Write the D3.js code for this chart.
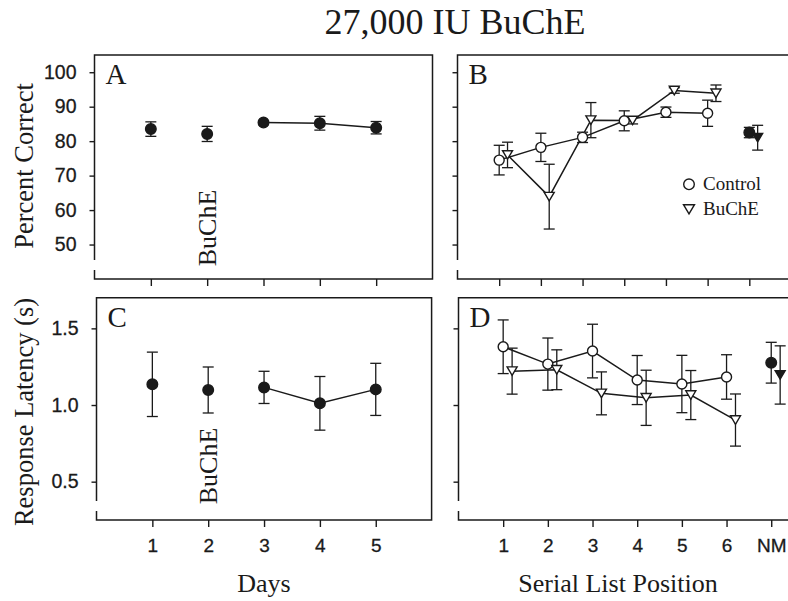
<!DOCTYPE html>
<html>
<head>
<meta charset="utf-8">
<script src="https://cdn.jsdelivr.net/npm/d3@7"></script>
<style>
  body { margin: 0; background: #fff; }
  svg { display: block; }
</style>
</head>
<body>
<script>
// ---------------- data ----------------
const days = [1, 2, 3, 4, 5];
const dayLabels = ["1", "2", "3", "4", "5"];
const pctDays = [83.5, 82.1, 85.4, 85.2, 83.9];
const pctDaysErr = [2.1, 2.2, 0.6, 2.0, 1.8];
const latDays = [1.135, 1.098, 1.115, 1.011, 1.102];
const latDaysErr = [0.21, 0.15, 0.105, 0.175, 0.17];

const positions = [1, 2, 3, 4, 5, 6, 7];
const positionLabels = ["1", "2", "3", "4", "5", "6", "NM"];
const pctControl = [74.5, 78.2, 81.1, 85.9, 88.4, 88.1, 82.5];
const pctControlErr = [4.3, 4.1, 1.5, 2.9, 1.5, 3.8, 1.5];
const pctBuChE = [76.0, 63.9, 86.1, 86.0, 94.7, 93.9, 81.0];
const pctBuChEErr = [3.7, 9.4, 5.1, 1.0, 0.8, 2.4, 3.6];
const latControl = [1.38, 1.267, 1.352, 1.163, 1.137, 1.183, 1.276];
const latControlErr = [0.175, 0.17, 0.175, 0.16, 0.187, 0.145, 0.133];
const latBuChE = [1.221, 1.23, 1.076, 1.047, 1.065, 0.902, 1.196];
const latBuChEErr = [0.15, 0.13, 0.14, 0.18, 0.16, 0.17, 0.19];

const pctTicks = [50, 60, 70, 80, 90, 100];
const latTicks = [0.5, 1.0, 1.5];

const title = "27,000 IU BuChE";
const seriesNames = ["Control", "BuChE"];

// ---------------- setup ----------------
const W = 788, H = 601;
const serif = "'Liberation Serif', 'Times New Roman', serif";
const sans = "'Liberation Sans', Arial, sans-serif";
const ink = "#1a1a1a";

const svg = d3.select("body").append("svg")
  .attr("width", W).attr("height", H)
  .style("background", "#fff");

svg.append("text")
  .attr("x", 455).attr("y", 34)
  .attr("text-anchor", "middle")
  .style("font-family", serif).style("font-size", "36px").style("fill", ink)
  .text(title);

const panels = {
  A: { x: d3.scaleLinear([0, 6], [94.5, 432.5]), y: d3.scaleLinear([40, 105], [279, 55]), right: true },
  B: { x: d3.scaleLinear([0, 8], [457.5, 791]), y: d3.scaleLinear([40, 105], [279, 55]), right: false },
  C: { x: d3.scaleLinear([0, 6], [96.5, 431.6]), y: d3.scaleLinear([0.25, 1.7], [520, 297.7]), right: true },
  D: { x: d3.scaleLinear([0, 8], [458.5, 815.9]), y: d3.scaleLinear([0.25, 1.7], [520, 297.7]), right: false }
};

function frame(p, name, yTicks, yFmt, showYLabels, xTicks, xFmt) {
  const g = svg.append("g");
  const [x0, x1] = p.x.range();
  const [yb, yt] = p.y.range();
  // y axis ticks (outside, left)
  const ya = d3.axisLeft(p.y).tickValues(yTicks).tickSize(5).tickPadding(13)
    .tickFormat(showYLabels ? yFmt : () => "");
  const yg = g.append("g").attr("transform", `translate(${x0},0)`).call(ya);
  yg.select(".domain").remove();
  yg.selectAll("line").attr("stroke", ink).attr("stroke-width", 1.4);
  yg.selectAll("text").style("font-family", sans).style("font-size", "19.5px")
    .style("fill", ink).style("stroke", ink).style("stroke-width", 0.3);
  // x axis ticks (outside, bottom)
  const xa = d3.axisBottom(p.x).tickValues(xTicks).tickSize(7).tickPadding(12).tickFormat(xFmt);
  const xg = g.append("g").attr("transform", `translate(0,${yb})`).call(xa);
  xg.select(".domain").remove();
  xg.selectAll("line").attr("stroke", ink).attr("stroke-width", 1.4);
  xg.selectAll("text").style("font-family", sans).style("font-size", "19px")
    .style("fill", ink).style("stroke", ink).style("stroke-width", 0.3);
  // frame with broken left spine
  const path = d3.path();
  path.moveTo(x0, yb - 19); path.lineTo(x0, yt); path.lineTo(x1, yt);
  if (p.right) path.lineTo(x1, yb); else path.moveTo(x1, yb);
  path.lineTo(x0, yb); path.lineTo(x0, yb - 9);
  g.append("path").attr("d", path.toString()).attr("fill", "none")
    .attr("stroke", ink).attr("stroke-width", 1.5);
  // panel letter
  g.append("text").attr("x", x0 + 11).attr("y", yt + 29)
    .style("font-family", serif).style("font-size", "29px").style("fill", ink)
    .text(name);
  return g;
}

const fmtPct = d => d3.format("d")(d);
const fmtLat = d => d3.format(".1f")(d);

frame(panels.A, "A", pctTicks, fmtPct, true, days, () => "");
frame(panels.B, "B", pctTicks, fmtPct, false, positions, () => "");
frame(panels.C, "C", latTicks, fmtLat, true, days, (d, i) => dayLabels[i]);
frame(panels.D, "D", latTicks, fmtLat, false, positions, (d, i) => positionLabels[i]);

// ---------------- marks ----------------
const capHalf = 5.5;
function errorBars(p, xs, ys, es, dx) {
  const g = svg.append("g").attr("stroke", ink).attr("stroke-width", 1.3).attr("fill", "none");
  xs.forEach((xv, i) => {
    const cx = p.x(xv + dx);
    const top = p.y(ys[i] + es[i]), bot = p.y(ys[i] - es[i]);
    g.append("line").attr("x1", cx).attr("x2", cx).attr("y1", top).attr("y2", bot);
    g.append("line").attr("x1", cx - capHalf).attr("x2", cx + capHalf).attr("y1", top).attr("y2", top);
    g.append("line").attr("x1", cx - capHalf).attr("x2", cx + capHalf).attr("y1", bot).attr("y2", bot);
  });
}
function connect(p, xs, ys, dx) {
  const line = d3.line().x(d => p.x(d[0] + dx)).y(d => p.y(d[1]));
  svg.append("path").attr("d", line(xs.map((x, i) => [x, ys[i]])))
    .attr("fill", "none").attr("stroke", ink).attr("stroke-width", 1.5);
}
function circles(p, xs, ys, dx, filled) {
  svg.append("g").selectAll("circle").data(xs).join("circle")
    .attr("cx", (d) => p.x(d + dx)).attr("cy", (d, i) => p.y(ys[i]))
    .attr("r", filled ? 5.3 : 5)
    .attr("fill", filled ? ink : "#fff").attr("stroke", ink).attr("stroke-width", 1.4);
}
const triHalfW = 5, triH = 8.5;
function triangles(p, xs, ys, dx, filled) {
  svg.append("g").selectAll("path").data(xs).join("path")
    .attr("d", (d, i) => {
      const cx = p.x(d + dx), cy = p.y(ys[i]);
      return `M${cx - triHalfW},${cy - triH / 2}L${cx + triHalfW},${cy - triH / 2}L${cx},${cy + triH / 2}Z`;
    })
    .attr("fill", filled ? ink : "#fff").attr("stroke", ink).attr("stroke-width", 1.4)
    .attr("stroke-linejoin", "miter");
}

const off = 0.2;

// Panel A
(() => {
  const p = panels.A;
  connect(p, days.slice(2), pctDays.slice(2), 0);
  errorBars(p, days, pctDays, pctDaysErr, 0);
  circles(p, days, pctDays, 0, true);
})();
// Panel C
(() => {
  const p = panels.C;
  connect(p, days.slice(2), latDays.slice(2), 0);
  errorBars(p, days, latDays, latDaysErr, 0);
  circles(p, days, latDays, 0, true);
})();

function serialPanel(p, ctrl, ctrlErr, bu, buErr) {
  const six = positions.slice(0, 6);
  connect(p, six, ctrl.slice(0, 6), 0);
  connect(p, six, bu.slice(0, 6), off);
  errorBars(p, positions, ctrl, ctrlErr, 0);
  errorBars(p, positions, bu, buErr, off);
  circles(p, six, ctrl.slice(0, 6), 0, false);
  triangles(p, six, bu.slice(0, 6), off, false);
  circles(p, [7], [ctrl[6]], 0, true);
  triangles(p, [7], [bu[6]], off, true);
}
serialPanel(panels.B, pctControl, pctControlErr, pctBuChE, pctBuChEErr);
serialPanel(panels.D, latControl, latControlErr, latBuChE, latBuChEErr);

// Legend in panel B
(() => {
  const lg = svg.append("g");
  const lx = 689, ly1 = 184.3, ly2 = 209.3;
  lg.append("circle").attr("cx", lx).attr("cy", ly1).attr("r", 5.3)
    .attr("fill", "#fff").attr("stroke", ink).attr("stroke-width", 1.4);
  lg.append("path")
    .attr("d", `M${lx - 5.5},${ly2 - 4.6}L${lx + 5.5},${ly2 - 4.6}L${lx},${ly2 + 4.6}Z`)
    .attr("fill", "#fff").attr("stroke", ink).attr("stroke-width", 1.4);
  [seriesNames[0], seriesNames[1]].forEach((t, i) => {
    lg.append("text").attr("x", 703).attr("y", (i ? ly2 : ly1) + 6)
      .style("font-family", serif).style("font-size", "19px").style("fill", ink).text(t);
  });
})();

// Annotations "BuChE" on day 2
[[panels.A, 228], [panels.C, 466]].forEach(([p, cy]) => {
  const x = p.x(2) + 9;
  svg.append("text")
    .attr("transform", `translate(${x},${cy}) rotate(-90)`)
    .attr("text-anchor", "middle")
    .style("font-family", serif).style("font-size", "26px").style("fill", ink)
    .text("BuChE");
});

// Axis titles
svg.append("text").attr("transform", "translate(33,166) rotate(-90)")
  .attr("text-anchor", "middle")
  .style("font-family", serif).style("font-size", "26.5px").style("fill", ink)
  .text("Percent Correct");
svg.append("text").attr("transform", "translate(33,412) rotate(-90)")
  .attr("text-anchor", "middle")
  .style("font-family", serif).style("font-size", "26.5px").style("fill", ink)
  .text("Response Latency (s)");
svg.append("text").attr("x", 264).attr("y", 592).attr("text-anchor", "middle")
  .style("font-family", serif).style("font-size", "26px").style("fill", ink)
  .text("Days");
svg.append("text").attr("x", 618).attr("y", 592).attr("text-anchor", "middle")
  .style("font-family", serif).style("font-size", "26px").style("fill", ink)
  .text("Serial List Position");
</script>
</body>
</html>
